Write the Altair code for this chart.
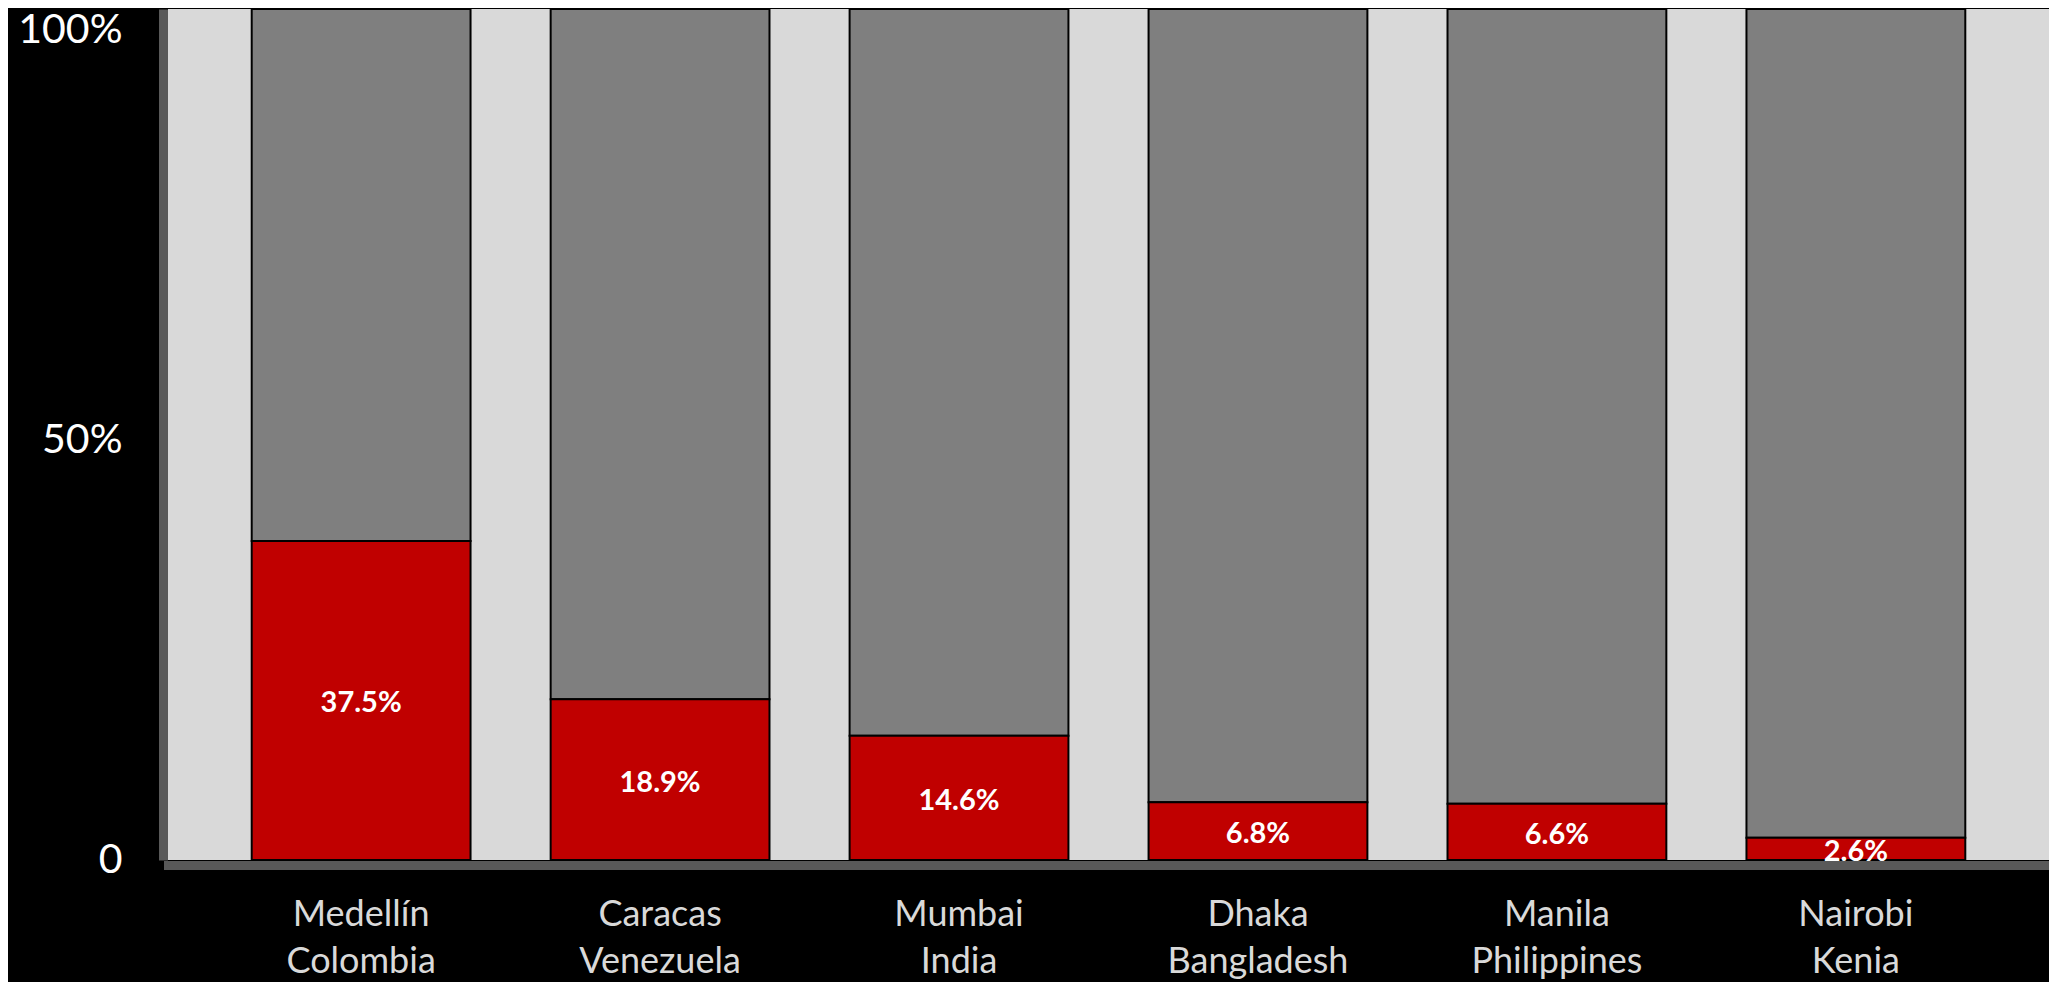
import altair as alt
import pandas as pd

cities = ["Medellín\nColombia", "Caracas\nVenezuela", "Mumbai\nIndia",
          "Dhaka\nBangladesh", "Manila\nPhilippines", "Nairobi\nKenia"]
values = [37.5, 18.9, 14.6, 6.8, 6.6, 2.6]

df = pd.DataFrame({"city": cities, "value": values})
df["share"] = df["value"] / 100.0
df["mid"] = df["share"] / 2.0
df["full"] = 1.0
df["zero"] = 0.0
df["label"] = df["value"].map(lambda v: f"{v:.1f}%")

FONT = "Lato"

x_enc = alt.X(
    "city:N", sort=None, title=None,
    scale=alt.Scale(paddingInner=0.268, paddingOuter=0.28),
    axis=alt.Axis(
        labelExpr="split(datum.label, '\\n')",
        labelAngle=0, labelFont=FONT, labelFontSize=36, labelColor="#d9d9d9",
        labelLineHeight=47, labelBaseline="top", labelPadding=32,
        ticks=False, tickSize=0, domainColor="#595959", domainWidth=9,
        domainCap="square", offset=5, labelLimit=400,
    ),
)

y_axis = alt.Axis(
    values=[0, 0.5, 1],
    labelExpr="datum.value == 0 ? '0' : format(datum.value, '.0%')",
    labelFont=FONT, labelFontSize=41, labelColor="white",
    labelPadding=41, ticks=False, tickSize=0, grid=False,
    domainColor="#595959", domainWidth=9, offset=5, title=None,
    labelBaseline="middle",
    labelOffset={"condition": [{"test": "datum.value == 1", "value": 21},
                               {"test": "datum.value == 0.5", "value": 6}],
                 "value": 0},
)

base = alt.Chart(df)

red = base.mark_bar(color="#c00000", stroke="black", strokeWidth=2).encode(
    x=x_enc,
    y=alt.Y("zero:Q", scale=alt.Scale(domain=[0, 1], nice=False), axis=y_axis),
    y2="share:Q",
)

gray = base.mark_bar(color="#7f7f7f", stroke="black", strokeWidth=2).encode(
    x=x_enc,
    y=alt.Y("share:Q"),
    y2="full:Q",
)

text = base.mark_text(color="white", font=FONT, fontWeight="bold", fontSize=29,
                      baseline="middle", dy=3).encode(
    x=x_enc,
    y=alt.Y("mid:Q"),
    text="label:N",
)

chart = alt.layer(gray, red, text).properties(
    width=1881, height=851,
    background="black",
    padding={"left": 160, "top": 1, "right": 0, "bottom": 122},
    autosize=alt.AutoSizeParams(type="none"),
).configure_view(fill="#d9d9d9", stroke=None)

chart.save("out.html", embed_options={"renderer": "svg", "actions": False})
